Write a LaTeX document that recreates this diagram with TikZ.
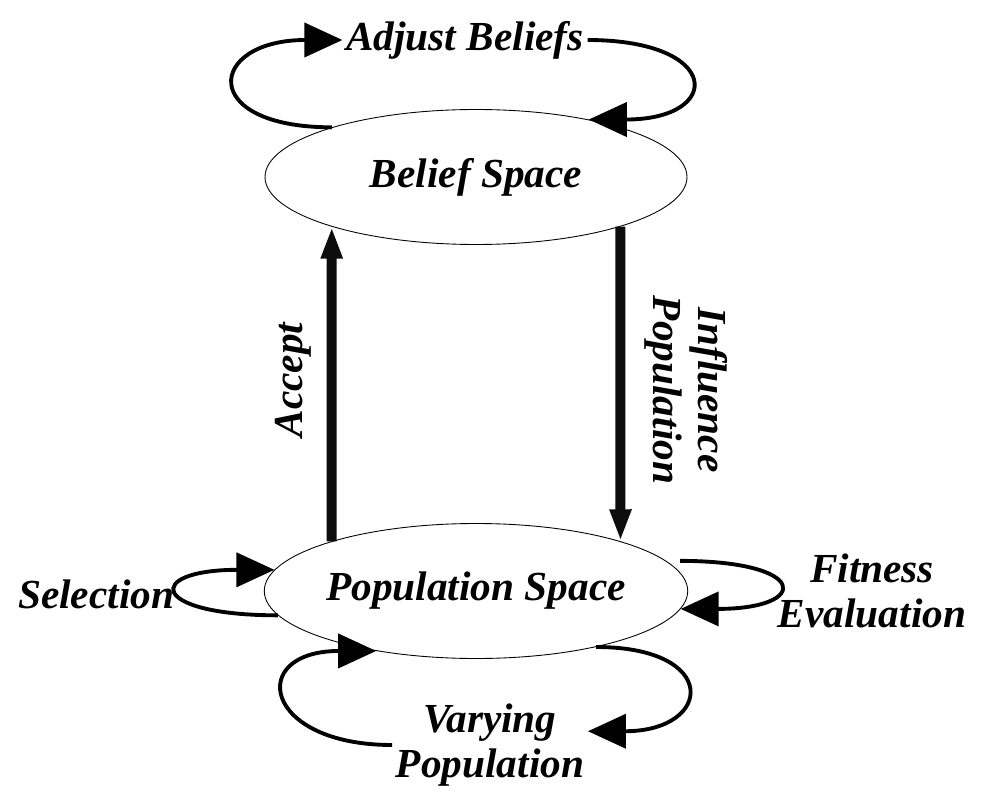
\documentclass[tikz,border=0pt]{standalone}
\usepackage{fontspec}
\setmainfont{Liberation Serif}
\usetikzlibrary{arrows.meta,shapes.geometric}

\begin{document}
\begin{tikzpicture}[
  font=\fontsize{23.5}{26}\selectfont\bfseries\itshape,
  >=Latex,
  spc/.style={
    draw=black, line width=0.5pt,
    ellipse, inner sep=0pt,
    minimum width=8.44cm, minimum height=2.7cm
  },
  lab/.style={align=center, inner sep=2pt},
  flow/.style={-{Triangle[length=0.64cm,width=0.4cm]}, line width=0.2cm, black!95},
  cyc/.style={-{Triangle[length=0.76cm,width=0.68cm]}, line width=2.2pt}
]
\useasboundingbox (0,0) rectangle (19.7,-16.06);

% Spaces
\node[spc] (bel) at (9.52,-3.54) {Belief Space};
\node[spc] (pop) at (9.52,-11.82) {Population Space};

% Labels of the loops and flows
\node[lab] (adj) at (9.3,-0.8) {Adjust Beliefs};
\node[lab, anchor=east] (sel) at (3.56,-11.88) {Selection};
\node[lab] (fit) at (17.44,-11.82) {Fitness\\Evaluation};
\node[lab] (var) at (9.8,-14.9) {Varying\\Population};
\node[lab, rotate=90] (acc) at (5.86,-7.6) {Accept};
\node[lab, rotate=-90] (inf) at (13.72,-7.8) {Influence\\Population};

% Between the two spaces
\draw[flow] (pop.161) -- (bel.199);
\draw[flow] (bel.-19.5) -- (pop.19.5);

% Loops
\draw[cyc] (bel.161) .. controls +(-2.7,0) and +(-2.7,0) .. (adj.west);
\draw[cyc] (adj.east) .. controls +(2.7,0) and +(2.7,0) .. (bel.27);
\draw[cyc] (pop.187) .. controls +(-2.6,0) and +(-2.6,0) .. (pop.174);
\draw[cyc] ([xshift=0.28cm]pop.9) .. controls +(2.6,0) and +(2.6,0) .. (pop.-5);
\draw[cyc] (var.west) .. controls +(-2.6,0) and +(-2.6,0) .. (pop.211.5);
\draw[cyc] (pop.-25) .. controls +(2.5,0) and +(2.5,0) .. (var.8);
\end{tikzpicture}
\end{document}
